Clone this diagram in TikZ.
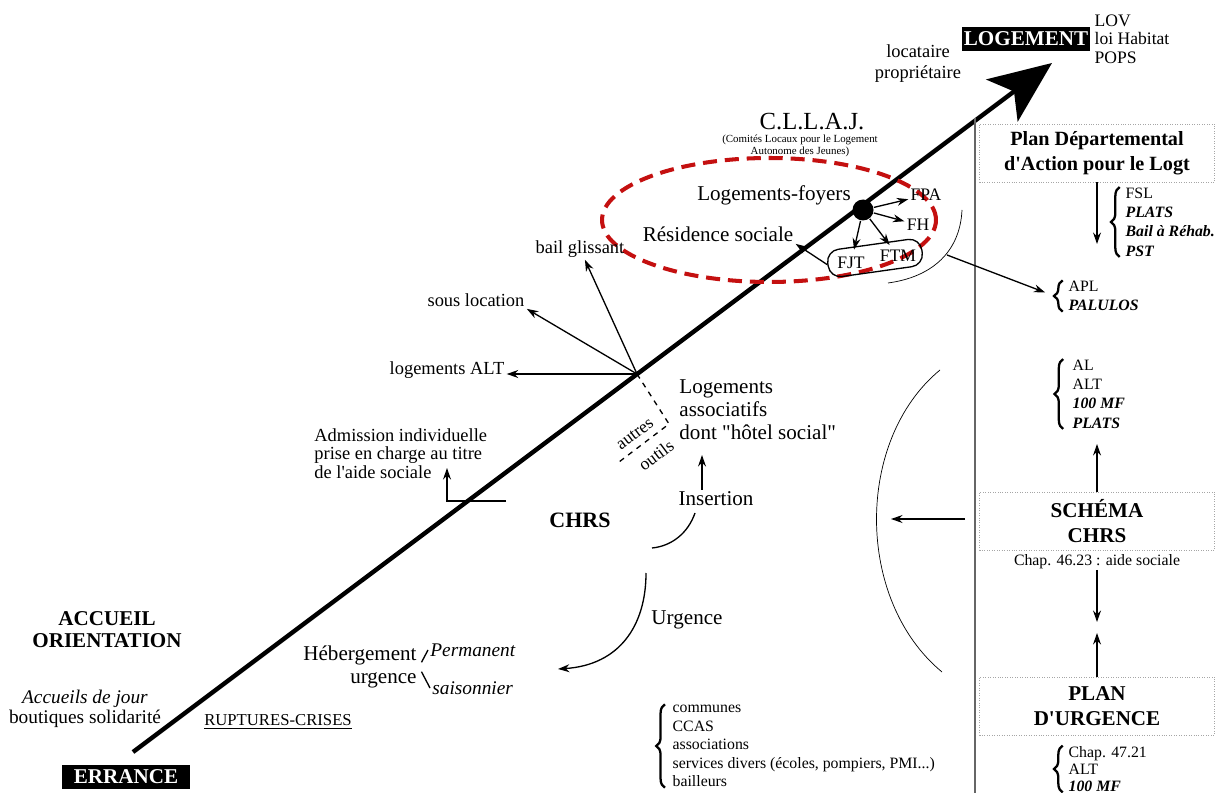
\documentclass[tikz,border=0pt]{standalone}
\usepackage{fontspec}
\setmainfont{Liberation Serif}[Ligatures=TeXOff]
\usetikzlibrary{arrows.meta,shapes.geometric,decorations.pathreplacing}
\definecolor{ovalred}{RGB}{196,16,16}
\newcommand{\bitxt}[1]{\textbf{\textit{#1}}}
\newcommand{\fsz}[2]{\fontsize{#1}{#2}\selectfont}
\begin{document}
\begin{tikzpicture}[x=0.02cm,y=-0.02cm,line width=0.75pt,>={Stealth[length=6.5pt,width=4.5pt]},
  lbl/.style={inner sep=1pt,font=\fsz{10.5}{10.5}},
  big/.style={inner sep=1pt,font=\fsz{12}{13.3}},
  lst/.style={inner sep=0pt,align=left,anchor=west,font=\fsz{9}{11}},
  curly/.style={decorate,decoration={brace,amplitude=5pt},line width=1.3pt},
  blackbox/.style={fill=black,text=white,inner sep=0pt,minimum width=2.56cm,minimum height=0.48cm,font=\bfseries\fsz{12}{14}},
  planbox/.style={draw=black!35,densely dotted,thin,inner sep=0pt,minimum width=4.7cm,minimum height=1.16cm,align=center,font=\bfseries\fsz{12}{14}}]
\useasboundingbox (0,0) rectangle (1220,793);
% axe errance -> logement
\coordinate (errpt) at (133,752);
\coordinate (logpt) at (1052,63);
\coordinate (hub) at (637,374);
\draw[line width=2.5pt,-{Stealth[length=1.25cm,width=1.05cm,inset=0.3cm]}] (errpt)--(logpt);
\node[blackbox](errance)at(126,777){ERRANCE};
\node[blackbox](logement)at(1026,39){LOGEMENT};
\node[lst,font=\fsz{10}{10.5}](lov)at(1094,39){LOV\\loi Habitat\\POPS};
\node[lbl,align=center,font=\fsz{10.5}{12}](locprop)at(918,64){locataire\\propriétaire};
\node[inner sep=0pt,font=\fsz{14}{16}](cllaj)at(812,122){C.L.L.A.J.};
\node[inner sep=0pt,align=center,font=\fsz{6.2}{7}](cllajsub)at(800,146){(Comités Locaux pour le Logement\\Autonome des Jeunes)};
% logements-foyers
\node[draw=ovalred,ellipse,line width=2.3pt,dash pattern=on 8pt off 4.5pt,minimum width=6.68cm,minimum height=2.48cm](oval)at(769,220){};
\node[big](foyers)at(774,195){Logements-foyers};
\node[big](residence)at(718,234){Résidence sociale};
\node[circle,fill,inner sep=0pt,minimum size=0.42cm](sun)at(863,210){};
\node[lbl,font=\fsz{10}{11}](fpa)at(926,195){FPA};
\node[lbl,font=\fsz{10}{11}](fh)at(918,225){FH};
\node[draw,rounded corners=7pt,rotate=8,minimum width=1.9cm,minimum height=0.55cm,inner sep=0pt](ftbox)at(875,258){};
\node[lbl,font=\fsz{10}{11}](fjt)at(851,263){FJT};
\node[lbl,font=\fsz{10}{11}](ftm)at(898,256){FTM};
\draw[->](sun)--(fpa);
\draw[->](sun)--(fh);
\draw[->,shorten >=2pt](sun)--(ftm);
\draw[->,shorten >=3pt](sun)--(fjt);
\draw[->](ftbox.west)--(residence.south east);
\draw[thin](962,210)..controls(960,252)and(932,277)..(888,283);
\coordinate(arcpt)at(947,255);
% outils
\node[lbl](bail)at(580,249){bail glissant};
\node[lbl](sous)at(476,300){sous location};
\node[lbl](logalt)at(447,370){logements ALT};
\draw[->](hub)--(bail);
\draw[->](hub)--(sous.south east);
\draw[->](hub)--(logalt.east|-hub);
\coordinate(dashcorner)at(669,424);
\coordinate(dashend)at(619,462);
\draw[dashed](hub)--(dashcorner)--(dashend);
\node[inner sep=0pt,rotate=37,font=\fsz{10}{11}](autres)at(635,434){autres};
\node[inner sep=0pt,rotate=37,font=\fsz{10}{11}](outils)at(656,455){outils};
\node[big,align=left,anchor=north west](assoc)at(677,377){Logements\\associatifs\\dont "hôtel social"};
\node[big](insertion)at(716,499){Insertion};
\coordinate(insup)at(702,455);
\draw[->](insertion.north-|insup)--(insup);
\draw(695,513)..controls(688,533)and(672,546)..(652,548);
\node[inner sep=1pt,font=\bfseries\fsz{12.5}{14}](chrs)at(580,520){CHRS};
\node[big](urgence)at(687,620){Urgence};
\coordinate(urgstart)at(646,573);
\coordinate(urgtip)at(558,669);
\draw[->](urgstart)..controls(646,625)and(620,665)..(urgtip);
\node[lbl,align=left,anchor=north west](admission)at(312,426){Admission individuelle\\prise en charge au titre\\de l'aide sociale};
\coordinate(admfoot)at(506,501);
\coordinate(admtip)at(447,468);
\draw[->](admfoot)-|(admtip);
% hebergement
\node[big,align=right,anchor=east](heb)at(419,667){Hébergement\\urgence};
\node[inner sep=1pt,anchor=west,font=\itshape\fsz{11}{12}](perm)at(428,650){Permanent};
\node[inner sep=1pt,anchor=west,font=\itshape\fsz{11}{12}](sais)at(430,688){saisonnier};
\draw[shorten <=3pt](heb.east)--(perm.west);
\draw[shorten <=3pt](heb.east)--(sais.west);
\node[inner sep=1pt,align=center,font=\bfseries\fsz{12}{12.5}](accueil)at(107,630){ACCUEIL\\ORIENTATION};
\node[inner sep=1pt,align=center,font=\fsz{11}{11}](jour)at(85,709){\textit{Accueils de jour}\\boutiques solidarité};
\node[inner sep=1pt,font=\fsz{9.5}{11}](ruptures)at(278,722){\underline{RUPTURES-CRISES}};
\node[lst,font=\fsz{9}{10.6}](communes)at(672,746){communes\\CCAS\\associations\\services divers (écoles, pompiers, PMI...)\\bailleurs};
\draw[curly]([xshift=-4pt]communes.south west)--([xshift=-4pt]communes.north west);
% colonne des plans
\draw[black!60,line width=0.8pt](975,118)--(975,793);
\node[planbox,font=\bfseries\fsz{11.5}{14}](pdalpd)at(1097,153){Plan Départemental\\d'Action pour le Logt};
\node[lst](fsl)at(1125,222){FSL\\\bitxt{PLATS}\\\bitxt{Bail à Réhab.}\\\bitxt{PST}};
\draw[curly]([xshift=-3pt]fsl.south west)--([xshift=-3pt]fsl.north west);
\coordinate(fslend)at(1097,244);
\draw[->](pdalpd)--(fslend);
\node[lst](apl)at(1068,296){APL\\\bitxt{PALULOS}};
\draw[curly]([xshift=-3pt]apl.south west)--([xshift=-3pt]apl.north west);
\draw[->](arcpt)--([xshift=-13pt,yshift=2pt]apl.west);
\node[lst](al)at(1072,394){AL\\ALT\\\bitxt{100 MF}\\\bitxt{PLATS}};
\draw[curly]([xshift=-5pt]al.south west)--([xshift=-5pt]al.north west);
\node[planbox](schema)at(1097,521){SCHÉMA\\CHRS};
\coordinate(altop)at(1097,444);
\draw[->](schema)--(altop);
\node[lst,anchor=center](chap46)at(1097,562){Chap. 46.23 : aide sociale};
\coordinate(downend)at(1097,622);
\draw[->](chap46)--(downend);
\node[planbox](planurg)at(1097,706){PLAN\\D'URGENCE};
\coordinate(upend)at(1097,633);
\draw[->](planurg)--(upend);
\node[lst,font=\fsz{9}{9.8}](chap47)at(1068,769){Chap. 47.21\\ALT\\\bitxt{100 MF}};
\draw[curly]([xshift=-3pt]chap47.south west)--([xshift=-3pt]chap47.north west);
% grand arc
\draw[thin](940,370)..controls(855,440)and(855,600)..(942,672);
\coordinate(sepin)at(965,519);
\coordinate(arcin)at(891,519);
\draw[->](sepin)--(arcin);
\end{tikzpicture}
\end{document}
